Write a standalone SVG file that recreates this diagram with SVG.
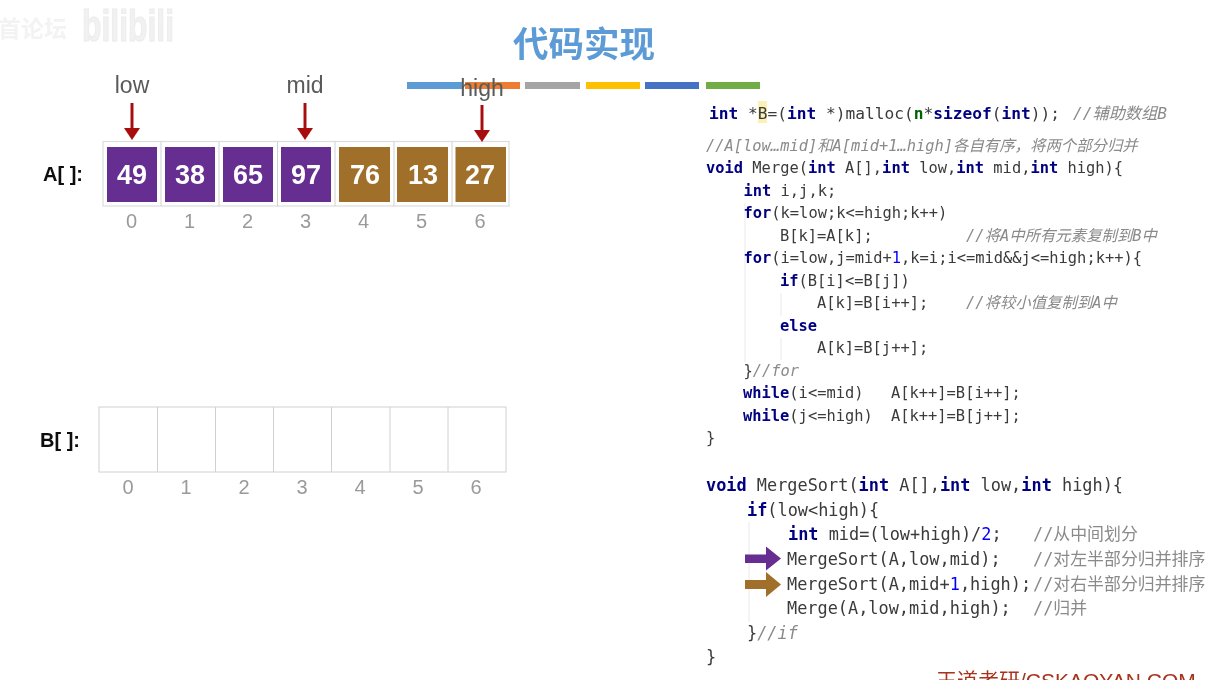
<svg xmlns="http://www.w3.org/2000/svg" width="1213" height="680" viewBox="0 0 1213 680">
<style>
.ui{font-family:"Liberation Sans",Arial,"Noto Sans CJK SC",sans-serif}
.lab{font-size:23px;fill:#5a5a5a;text-anchor:middle}
.idx{font-size:20px;fill:#9a9a9a;text-anchor:middle}
.val{font-size:27px;fill:#fff;text-anchor:middle;font-weight:bold}
.arr{font-size:20px;font-weight:bold;fill:#111}
.cell{stroke:none}
.p{fill:#652d90}
.b{fill:#a0702a}
.grid{fill:#fff;stroke:#dcdcdc;stroke-width:1.2}
.gridb{stroke:#d0d0d0;stroke-width:1;fill:none}
.code{font-family:"DejaVu Sans Mono","Noto Sans CJK SC",monospace;fill:#3a3a3a;white-space:pre}
.s1{font-size:15.4px}
.s2{font-size:16.9px}
.s0{font-size:16.2px}
.k{fill:#000080;font-weight:bold}
.n{fill:#0000ff}
.g{fill:#006400;font-weight:bold}
.c{fill:#8a8a8a;font-style:italic}
.guide{stroke:#f1f1f1;stroke-width:1.5}
.ptr{fill:#a80f0f}
.shaft{stroke:#a80f0f;stroke-width:3}
</style>
<defs><filter id="soft" x="0" y="0" width="100%" height="100%"><feGaussianBlur stdDeviation="0.45"/></filter></defs>
<rect width="1213" height="680" fill="#fff"/>
<g filter="url(#soft)">
<g id="watermark">
<text class="ui" x="-2" y="37" font-size="23" font-weight="bold" fill="#f3f3f3">首论坛</text>
<text class="ui" x="82" y="41" font-size="45" font-weight="bold" fill="#f1f1f1" stroke="#ececec" stroke-width="1.2" textLength="92" lengthAdjust="spacingAndGlyphs">bilibili</text>
</g>
<g id="title">
<text class="ui" x="513" y="57" font-size="35.5" font-weight="bold" fill="#5b9bd5" style="font-family:'Noto Sans CJK SC',sans-serif">代码实现</text>
<rect x="407" y="82" width="55" height="7" fill="#5b9bd5"/>
<rect x="465" y="82" width="55" height="7" fill="#ed7d31"/>
<rect x="525" y="82" width="55" height="7" fill="#a5a5a5"/>
<rect x="586" y="82" width="54" height="7" fill="#ffc000"/>
<rect x="645" y="82" width="54" height="7" fill="#4472c4"/>
<rect x="706" y="82" width="54" height="7" fill="#70ad47"/>
</g>
<g id="arrayA">
<text class="ui arr" x="43" y="181">A[ ]:</text>
<rect class="grid" x="103" y="141.500" width="406" height="64.500"/>
<path class="gridb" stroke="#dcdcdc" d="M161 142V206M219 142V206M277.500 142V206M335 142V206M394 142V206M452 142V206"/>
<g id="A0"><rect class="cell p" x="107" y="147" width="50" height="55"/><text class="ui val" x="132" y="184">49</text><text class="ui idx" x="131.500" y="228">0</text></g>
<g id="A1"><rect class="cell p" x="165" y="147" width="50" height="55"/><text class="ui val" x="190" y="184">38</text><text class="ui idx" x="189.500" y="228">1</text></g>
<g id="A2"><rect class="cell p" x="223" y="147" width="50" height="55"/><text class="ui val" x="248" y="184">65</text><text class="ui idx" x="247.500" y="228">2</text></g>
<g id="A3"><rect class="cell p" x="281" y="147" width="50" height="55"/><text class="ui val" x="306" y="184">97</text><text class="ui idx" x="305.500" y="228">3</text></g>
<g id="A4"><rect class="cell b" x="339" y="147" width="51" height="55"/><text class="ui val" x="365" y="184">76</text><text class="ui idx" x="363.500" y="228">4</text></g>
<g id="A5"><rect class="cell b" x="397" y="147" width="51" height="55"/><text class="ui val" x="423" y="184">13</text><text class="ui idx" x="421.500" y="228">5</text></g>
<g id="A6"><rect class="cell b" x="455.500" y="147" width="50.500" height="55"/><text class="ui val" x="480" y="184">27</text><text class="ui idx" x="480" y="228">6</text></g>
</g>
<g id="arrayB">
<text class="ui arr" x="40" y="447">B[ ]:</text>
<rect class="gridb" x="99" y="407" width="407" height="65"/>
<path class="gridb" d="M157.500 407V472M215.500 407V472M273.500 407V472M331.500 407V472M390 407V472M448 407V472"/>
<g class="ui idx">
<text x="128" y="494">0</text><text x="186" y="494">1</text><text x="244" y="494">2</text><text x="302" y="494">3</text><text x="360" y="494">4</text><text x="418" y="494">5</text><text x="476" y="494">6</text>
</g>
</g>
<g id="guides">
<path class="guide" d="M745 203V362M781 293V316M781 338V360M749 522V622"/>
</g>
<g id="connectors">
<path class="shaft" d="M132 103V128"/><path class="ptr" d="M124 128H140L132 140Z"/>
<path class="shaft" d="M305 103V128"/><path class="ptr" d="M297 128H313L305 140Z"/>
<path class="shaft" d="M482 105V130"/><path class="ptr" d="M474 130H490L482 142Z"/>
<path fill="#652d90" d="M745 554.500H766V546.500L781 558.500L766 570.500V563H745Z"/>
<path fill="#a0702a" d="M745 580H766V572L781 584.500L766 597V589H745Z"/>
</g>
<g id="pointers">
<text class="ui lab" x="132" y="93">low</text>
<text class="ui lab" x="305" y="93">mid</text>
<text class="ui lab" x="482" y="96">high</text>
</g>
<g id="code">
<rect x="758" y="101" width="9" height="22" fill="#fbf0b8"/>
<text class="code s0" x="709" y="119"><tspan class="k">int</tspan> *B=(<tspan class="k">int</tspan> *)malloc(<tspan class="g">n</tspan>*<tspan class="k">sizeof</tspan>(<tspan class="k">int</tspan>));</text>
<text class="code s0 c" x="1073" y="119">//辅助数组B</text>
<text class="code s1 c" x="706" y="151">//A[low…mid]和A[mid+1…high]各自有序，将两个部分归并</text>
<text class="code s1" x="706" y="173"><tspan class="k">void</tspan> Merge(<tspan class="k">int</tspan> A[],<tspan class="k">int</tspan> low,<tspan class="k">int</tspan> mid,<tspan class="k">int</tspan> high){</text>
<text class="code s1" x="743.500" y="196"><tspan class="k">int</tspan> i,j,k;</text>
<text class="code s1" x="743.500" y="218"><tspan class="k">for</tspan>(k=low;k&lt;=high;k++)</text>
<text class="code s1" x="780" y="241">B[k]=A[k];</text>
<text class="code s1 c" x="966" y="241">//将A中所有元素复制到B中</text>
<text class="code s1" x="743.500" y="263"><tspan class="k">for</tspan>(i=low,j=mid+<tspan class="n">1</tspan>,k=i;i&lt;=mid&amp;&amp;j&lt;=high;k++){</text>
<text class="code s1" x="780" y="286"><tspan class="k">if</tspan>(B[i]&lt;=B[j])</text>
<text class="code s1" x="817" y="308">A[k]=B[i++];</text>
<text class="code s1 c" x="966" y="308">//将较小值复制到A中</text>
<text class="code s1 k" x="780" y="331">else</text>
<text class="code s1" x="817" y="353">A[k]=B[j++];</text>
<text class="code s1" x="743.500" y="376">}<tspan class="c">//for</tspan></text>
<text class="code s1" x="743" y="398"><tspan class="k">while</tspan>(i&lt;=mid)</text>
<text class="code s1" x="891" y="398">A[k++]=B[i++];</text>
<text class="code s1" x="743" y="421"><tspan class="k">while</tspan>(j&lt;=high)</text>
<text class="code s1" x="891" y="421">A[k++]=B[j++];</text>
<text class="code s1" x="706" y="443">}</text>
<text class="code s2" x="706" y="491"><tspan class="k">void</tspan> MergeSort(<tspan class="k">int</tspan> A[],<tspan class="k">int</tspan> low,<tspan class="k">int</tspan> high){</text>
<text class="code s2" x="747" y="516"><tspan class="k">if</tspan>(low&lt;high){</text>
<text class="code s2" x="788" y="540"><tspan class="k">int</tspan> mid=(low+high)/<tspan class="n">2</tspan>;</text>
<text class="code s2 c" x="1033" y="540" style="font-style:normal">//从中间划分</text>
<text class="code s2" x="787" y="565">MergeSort(A,low,mid);</text>
<text class="code s2 c" x="1033" y="565" style="font-style:normal">//对左半部分归并排序</text>
<text class="code s2" x="787" y="590">MergeSort(A,mid+<tspan class="n">1</tspan>,high);</text>
<text class="code s2 c" x="1033" y="590" style="font-style:normal">//对右半部分归并排序</text>
<text class="code s2" x="787" y="614">Merge(A,low,mid,high);</text>
<text class="code s2 c" x="1033" y="614" style="font-style:normal">//归并</text>
<text class="code s2" x="747" y="639">}<tspan class="c">//if</tspan></text>
<text class="code s2" x="706" y="663">}</text>
</g>
<g id="footer">
<text class="ui" x="936" y="688" font-size="21" fill="#a8321a" style="font-family:'Liberation Sans','Noto Sans CJK SC',sans-serif">王道考研/CSKAOYAN.COM</text>
</g>
</g>
</svg>
